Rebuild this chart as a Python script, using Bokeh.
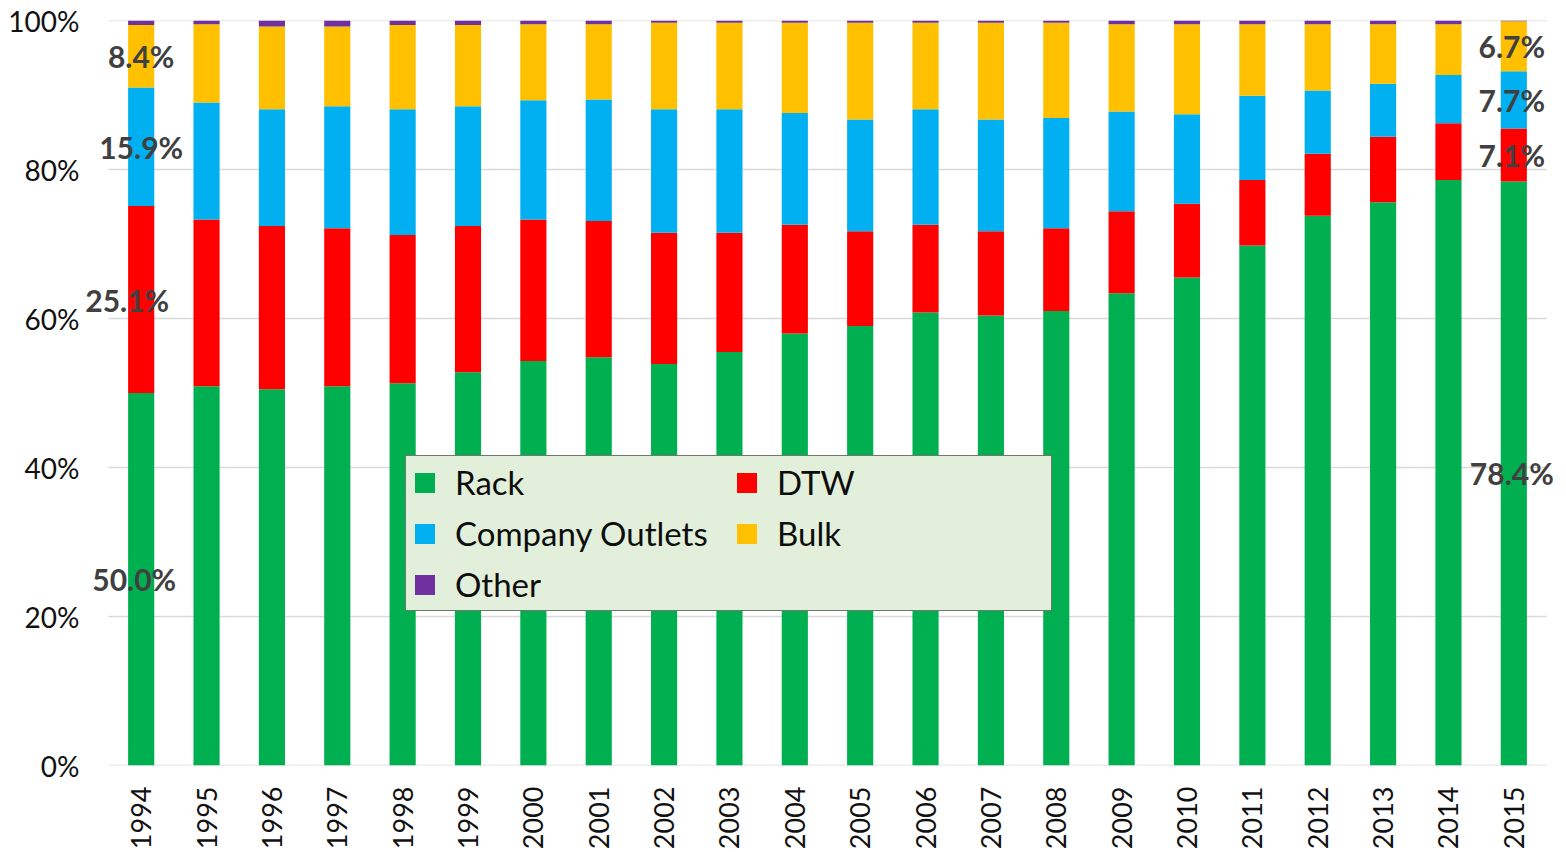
import math
from bokeh.plotting import figure
from bokeh.models import (ColumnDataSource, Range1d, FixedTicker, Legend, LegendItem,
                          Label, PrintfTickFormatter)
from bokeh.embed import file_html
from bokeh.resources import INLINE

# ---------------- data ----------------
years = ["1994", "1995", "1996", "1997", "1998", "1999", "2000", "2001", "2002", "2003", "2004",
         "2005", "2006", "2007", "2008", "2009", "2010", "2011", "2012", "2013", "2014", "2015"]
rack = [50.0, 50.9, 50.5, 50.9, 51.3, 52.8, 54.3, 54.8, 53.9, 55.5, 58.0,
        59.0, 60.8, 60.4, 61.0, 63.4, 65.5, 69.8, 73.8, 75.6, 78.6, 78.4]
dtw = [25.1, 22.4, 21.9, 21.2, 19.9, 19.6, 19.0, 18.3, 17.6, 16.0, 14.6,
       12.7, 11.8, 11.3, 11.1, 11.0, 9.9, 8.8, 8.3, 8.8, 7.6, 7.1]
company = [15.9, 15.7, 15.7, 16.4, 16.9, 16.1, 16.0, 16.3, 16.6, 16.6, 15.0,
           15.0, 15.5, 15.0, 14.8, 13.4, 12.0, 11.3, 8.5, 7.1, 6.5, 7.7]
bulk = [8.4, 10.5, 11.1, 10.7, 11.3, 10.9, 10.2, 10.1, 11.6, 11.6, 12.1,
        13.0, 11.6, 13.0, 12.8, 11.7, 12.1, 9.6, 8.9, 8.0, 6.8, 6.7]
other = [0.6, 0.5, 0.8, 0.8, 0.6, 0.6, 0.5, 0.5, 0.3, 0.3, 0.3,
         0.3, 0.3, 0.3, 0.3, 0.5, 0.5, 0.5, 0.5, 0.5, 0.5, 0.1]

series_keys = ["rack", "dtw", "company", "bulk", "other"]
series_names = ["Rack", "DTW", "Company Outlets", "Bulk", "Other"]
y_ticks = [0, 20, 40, 60, 80, 100]

# labelled bars (first and last year), labelled series
label_years = ["1994", "2015"]
label_keys = ["rack", "dtw", "company", "bulk"]

# ---------------- styles / layout ----------------
colors = ["#00B050", "#FF0000", "#00B0F0", "#FFC000", "#7030A0"]
label_dx = {("1994", "rack"): -7, ("1994", "dtw"): -14, ("2015", "rack"): -2,
            ("2015", "dtw"): -2, ("2015", "company"): -2, ("2015", "bulk"): -2}

PLOT_W = 1438          # width of the category area in px
PAD_L, PAD_R = 26, 12  # extra frame room so the data labels are not clipped
n = len(years)
ppu = PLOT_W / n       # px per category

xs = list(range(n))
data = dict(x=xs, rack=rack, dtw=dtw, company=company, bulk=bulk, other=other)
src = ColumnDataSource(data)

x_lo, x_hi = xs[0] - 0.5, xs[-1] + 0.5
p = figure(frame_width=PLOT_W + PAD_L + PAD_R, frame_height=745,
           output_backend="svg", toolbar_location=None,
           x_range=Range1d(x_lo - PAD_L / ppu, x_hi + PAD_R / ppu), y_range=Range1d(0, 100),
           min_border_left=82, min_border_right=8, min_border_top=20, min_border_bottom=70)
p.outline_line_color = None
p.background_fill_color = "white"

# gridlines (only across the category area)
p.segment(x0=[x_lo] * len(y_ticks), x1=[x_hi] * len(y_ticks), y0=y_ticks, y1=y_ticks,
          line_color="#D9D9D9", line_width=1.5, level="underlay")

renderers = p.vbar_stack(series_keys, x="x", width=0.4, color=colors, line_color=None, source=src)

# axes
p.xaxis.ticker = FixedTicker(ticks=xs)
p.xaxis.major_label_overrides = {i: y for i, y in enumerate(years)}
p.xaxis.major_label_orientation = math.pi / 2
p.xaxis.major_label_text_font = "Lato"
p.xaxis.major_label_text_font_size = "27px"
p.xaxis.major_label_text_color = "#111111"
p.xaxis.major_label_standoff = 15
p.xaxis.major_tick_line_color = None
p.xaxis.minor_tick_line_color = None
p.xaxis.axis_line_color = None

p.yaxis.ticker = FixedTicker(ticks=y_ticks)
p.yaxis.formatter = PrintfTickFormatter(format="%d%%")
p.yaxis.major_label_text_font = "Lato"
p.yaxis.major_label_text_font_size = "28px"
p.yaxis.major_label_text_color = "#111111"
p.yaxis.major_label_standoff = -3
p.yaxis.axis_line_color = None
p.yaxis.major_tick_line_color = None
p.yaxis.minor_tick_line_color = None

p.xgrid.grid_line_color = None
p.ygrid.grid_line_color = None

# data labels (centered in their segments)
for yr in label_years:
    i = years.index(yr)
    base = 0.0
    for k in series_keys:
        v = data[k][i]
        if k in label_keys:
            p.add_layout(Label(x=i, y=base + v / 2.0, text=f"{v:.1f}%",
                               x_offset=label_dx.get((yr, k), 0),
                               text_align="center", text_baseline="middle",
                               text_font="Lato", text_font_style="bold",
                               text_font_size="30px", text_color="#404040"))
        base += v

# legend
items = [LegendItem(label=nm, renderers=[r]) for nm, r in zip(series_names, renderers)]
legend = Legend(items=items, location=(323, 154), orientation="horizontal", ncols=2,
                label_text_font="Lato", label_text_font_size="33px", label_text_color="#0D0D0D",
                glyph_width=25, glyph_height=25, label_standoff=18, label_width=268,
                spacing=11, padding=6,
                border_line_color="black", border_line_width=1.5,
                background_fill_color="#E2EFDA", background_fill_alpha=1.0)
p.add_layout(legend, "center")

open("out.html", "w").write(file_html(p, INLINE))
